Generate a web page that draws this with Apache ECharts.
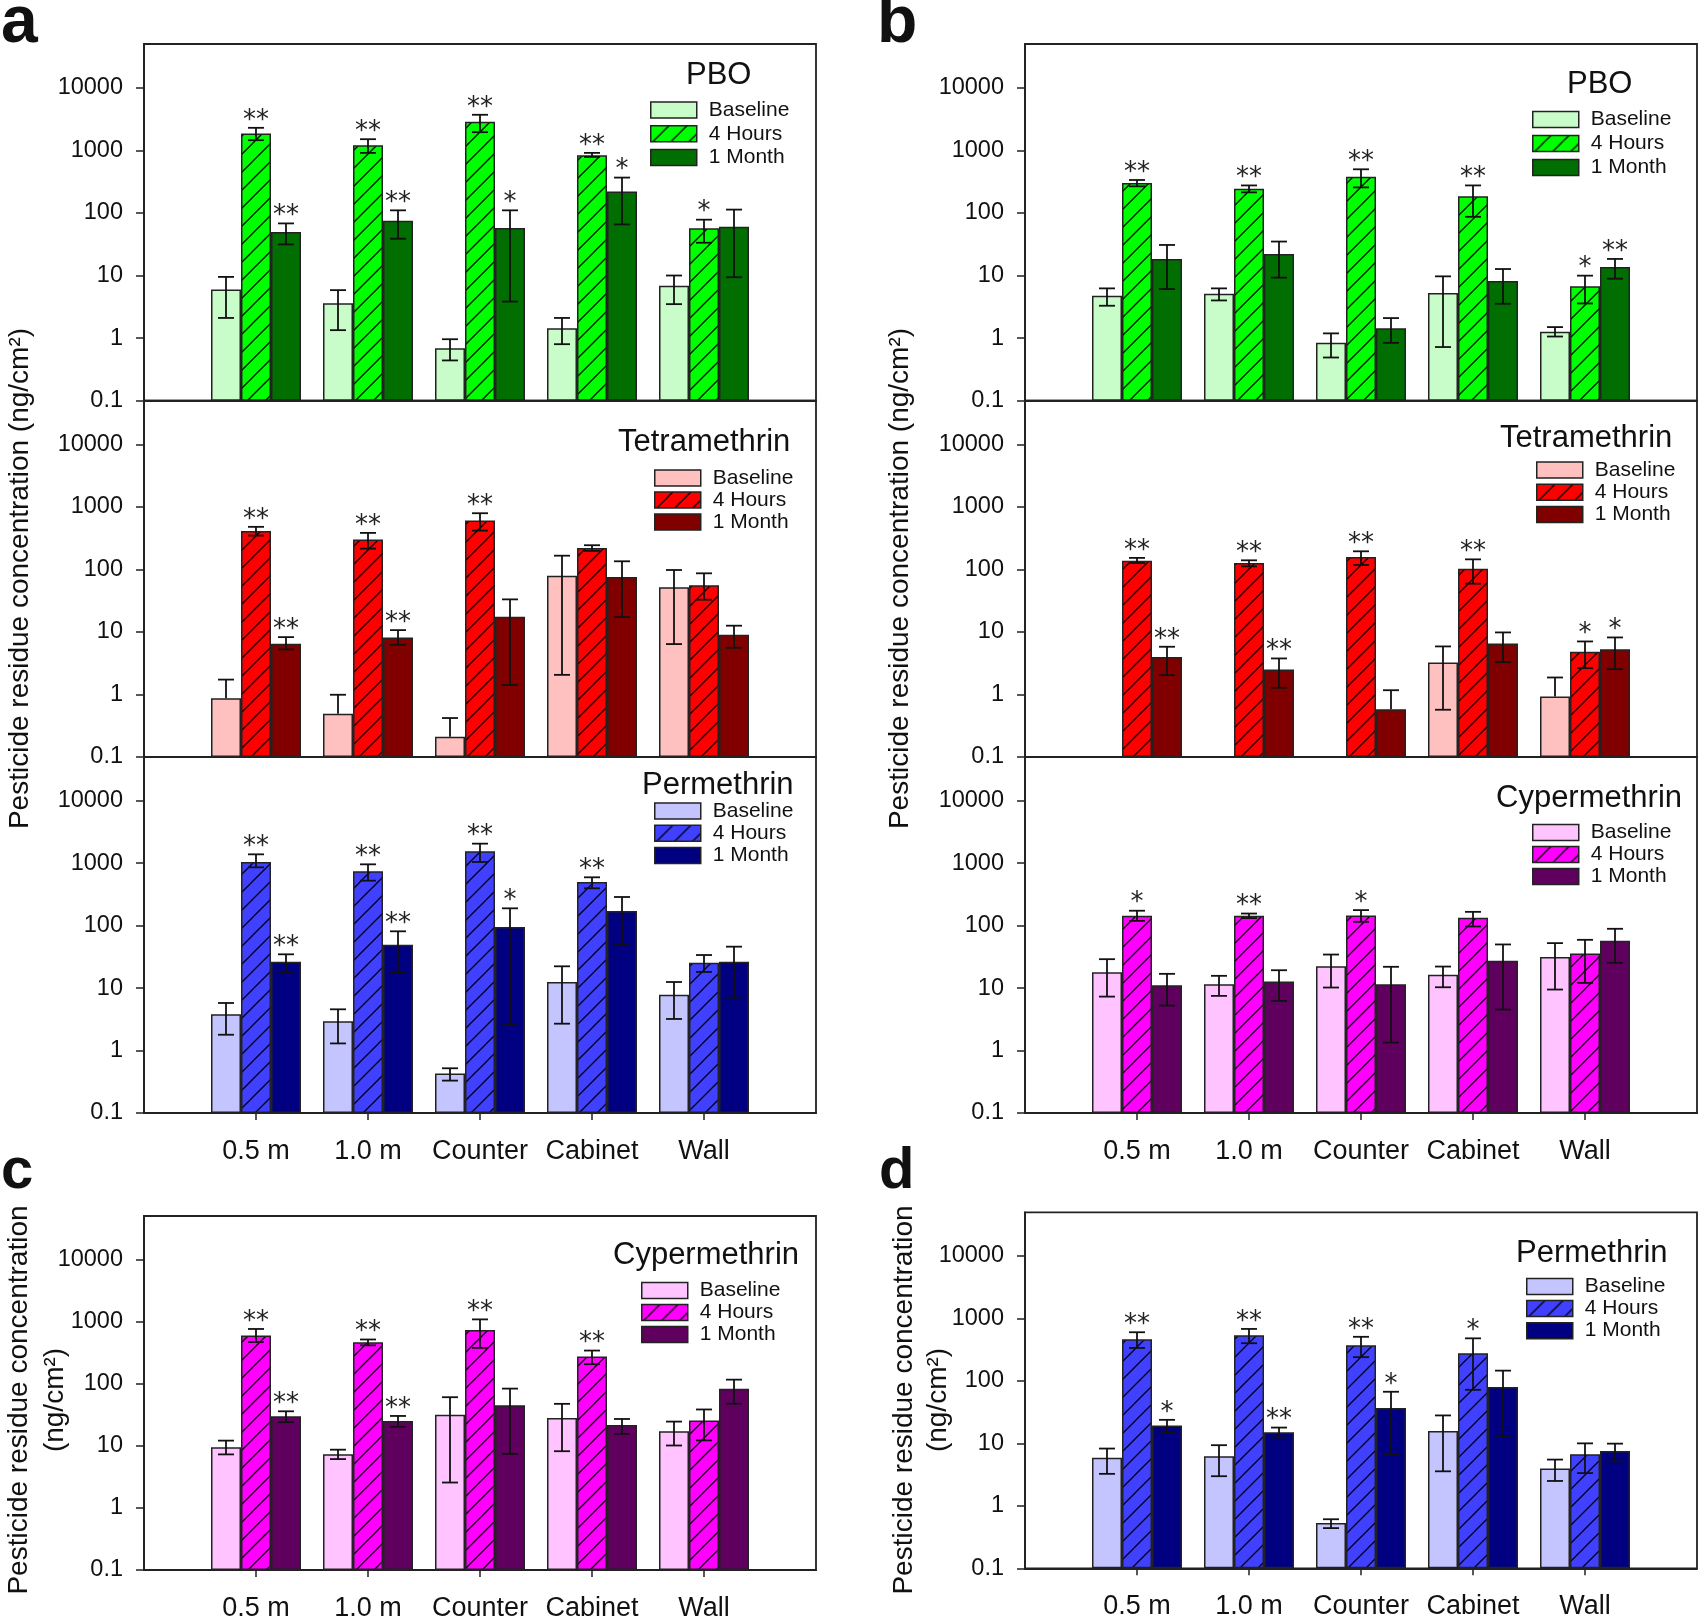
<!DOCTYPE html>
<html>
<head>
<meta charset="utf-8">
<script src="https://cdn.jsdelivr.net/npm/echarts@6/dist/echarts.min.js"></script>
<style>html,body{margin:0;padding:0;background:#fff;overflow:hidden}#c{width:1701px;height:1622px}</style>
</head>
<body>
<div id="c"></div>
<script>
// ---------------- DATA ----------------
const categories = ['0.5 m', '1.0 m', 'Counter', 'Cabinet', 'Wall'];
const groups = ['Baseline', '4 Hours', '1 Month'];
const yTicks = [0.1, 1, 10, 100, 1000, 10000];

// Panel a – PBO   (rows: Baseline, 4 Hours, 1 Month)
const aPBO_mean = [[5.98, 3.61, 0.69, 1.44, 6.85], [1858, 1208, 2855, 836, 56.7], [49.5, 75.2, 57.4, 219, 60.3]];
const aPBO_lo   = [[2.1, 1.34, 0.44, 0.8, 3.49], [1453, 911, 1950, 786, 33.4], [31.4, 38.7, 3.84, 65.6, 9.4]];
const aPBO_hi   = [[9.5, 5.84, 0.96, 2.1, 10.0], [2290, 1507, 3700, 911, 78], [68, 110, 110, 367, 113]];
const aPBO_sig  = [['', '', '', '', ''], ['**', '**', '**', '**', '*'], ['**', '**', '*', '*', '']];

// Panel a – Tetramethrin
const aTET_mean = [[0.87, 0.49, 0.21, 79.6, 51.7], [413, 300, 605, 221, 55.7], [6.47, 8.17, 17.5, 75.7, 9.0]];
const aTET_lo   = [[null, null, null, 2.06, 6.4], [348, 215, 418, 198, 32.8], [5.25, 6.23, 1.42, 17.3, 5.58]];
const aTET_hi   = [[1.73, 0.99, 0.42, 166, 98], [480, 384, 793, 244, 86.7], [8.27, 10.7, 33.2, 135, 12.6]];
const aTET_sig  = [['', '', '', '', ''], ['**', '**', '**', '', ''], ['**', '**', '', '', '']];

// Panel a – Permethrin
const aPER_mean = [[3.8, 2.93, 0.43, 12.5, 7.84], [1043, 739, 1545, 499, 25.5], [26.5, 49.5, 95, 171, 26.5]];
const aPER_lo   = [[1.79, 1.30, 0.33, 2.69, 3.2], [857, 524, 1043, 395, 18.1], [18.1, 17.9, 2.56, 50.7, 7.0]];
const aPER_hi   = [[5.77, 4.57, 0.52, 22.3, 12.5], [1383, 957, 2050, 593, 33.8], [34.7, 81, 189, 287, 46]];
const aPER_sig  = [['', '', '', '', ''], ['**', '**', '**', '**', ''], ['**', '**', '*', '', '']];

// Panel b – PBO
const bPBO_mean = [[4.76, 5.12, 0.84, 5.25, 1.26], [300, 244, 379, 184, 6.71], [18.4, 22.1, 1.44, 8.17, 13.7]];
const bPBO_lo   = [[3.29, 4.0, 0.49, 0.72, 1.06], [266, 213, 256, 86.7, 3.58], [6.08, 9.25, 0.84, 3.54, 8.9]];
const bPBO_hi   = [[6.23, 6.23, 1.19, 9.7, 1.5], [336, 275, 498, 275, 9.95], [30.8, 34.9, 2.09, 12.7, 18.4]];
const bPBO_sig  = [['', '', '', '', ''], ['**', '**', '**', '**', '*'], ['', '', '', '', '**']];

// Panel b – Tetramethrin
const bTET_mean = [[null, null, null, 3.25, 0.93], [138, 127, 158, 103, 4.82], [3.96, 2.51, 0.58, 6.55, 5.31]];
const bTET_lo   = [[null, null, null, 0.57, null], [127, 112, 118, 59.2, 2.64], [2.04, 1.28, null, 3.29, 2.54]];
const bTET_hi   = [[null, null, null, 5.87, 1.87], [153, 140, 195, 145, 7.05], [5.8, 3.77, 1.17, 9.83, 8.17]];
const bTET_sig  = [['', '', '', '', ''], ['**', '**', '**', '**', '*'], ['**', '**', '', '', '*']];

// Panel b – Cypermethrin
const bCYP_mean = [[17.9, 11.5, 22.4, 16.3, 31.3], [144, 144, 145, 133, 35.7], [11.1, 12.7, 11.5, 27.3, 57.1]];
const bCYP_lo   = [[7.3, 7.5, 10.2, 10.3, 9.47], [119, 132, 115, 96.9, 12.1], [5.25, 6.23, 1.34, 4.53, 25.3]];
const bCYP_hi   = [[29, 15.7, 34.4, 22.1, 52.4], [173, 156, 177, 166, 59.2], [16.9, 19.3, 21.9, 49.9, 88.9]];
const bCYP_sig  = [['', '', '', '', ''], ['*', '**', '*', '', ''], ['', '', '', '', '']];

// Panel c – Cypermethrin
const cCYP_mean = [[9.5, 7.3, 31.6, 27.9, 17.2], [598, 463, 731, 274, 25.6], [29.8, 25, 45, 21.5, 82.4]];
const cCYP_lo   = [[7.26, 6.1, 2.56, 8.17, 10.1], [468, 414, 377, 206, 12.2], [24, 20.2, 7.4, 15.5, 47.5]];
const cCYP_hi   = [[12.1, 8.65, 60.5, 47.3, 24.5], [759, 514, 1083, 341, 38.4], [35.9, 30.2, 83.2, 27, 116]];
const cCYP_sig  = [['', '', '', '', ''], ['**', '**', '**', '**', ''], ['**', '**', '', '', '']];

// Panel d – Permethrin
const dPER_mean = [[5.86, 6.23, 0.53, 15.8, 3.97], [464, 538, 373, 278, 6.7], [19.3, 15.1, 36.8, 80, 7.56]];
const dPER_lo   = [[3.25, 2.98, 0.44, 3.57, 2.5], [337, 401, 240, 72, 3.34], [14.7, 12.4, 6.6, 12.6, 5.14]];
const dPER_hi   = [[8.26, 9.35, 0.61, 28, 5.5], [601, 679, 508, 480, 10], [23.8, 17.9, 67, 146, 9.9]];
const dPER_sig  = [['', '', '', '', ''], ['**', '**', '**', '*', ''], ['*', '**', '*', '', '']];

// ---------------- STYLE / LAYOUT ----------------
const FONT = "'Liberation Sans', Arial, Helvetica, sans-serif";
const BAR_W = 30, CAP = 16;
const palettes = {
  PBO: ['#C8FCC8', '#00FF00', '#006E00'],
  Tetramethrin: ['#FFC0C0', '#FF0000', '#800000'],
  Permethrin: ['#C4C4FF', '#4040FF', '#000080'],
  Cypermethrin: ['#FFC4FF', '#FF00FF', '#5F005F']
};

function hatch(color) {
  const s = 18;
  const cv = document.createElement('canvas');
  cv.width = s; cv.height = s;
  const g = cv.getContext('2d');
  g.fillStyle = color; g.fillRect(0, 0, s, s);
  g.strokeStyle = '#000'; g.lineWidth = 1.3;
  g.beginPath();
  g.moveTo(-2, s + 2); g.lineTo(s + 2, -2);
  g.moveTo(-s / 2 - 2, s / 2 + 2); g.lineTo(s / 2 + 2, -s / 2 - 2);
  g.moveTo(s / 2 - 2, s * 1.5 + 2); g.lineTo(s * 1.5 + 2, s / 2 - 2);
  g.stroke();
  return cv;
}

const panels = [
  {id: 'a1', name: 'PBO', mean: aPBO_mean, lo: aPBO_lo, hi: aPBO_hi, sig: aPBO_sig, rect: [144, 44, 672, 356.7], title: [686, 60], leg: [650, 99.5, 2.8], bottom: false},
  {id: 'a2', name: 'Tetramethrin', mean: aTET_mean, lo: aTET_lo, hi: aTET_hi, sig: aTET_sig, rect: [144, 400.7, 672, 356.3], title: [618, 426.5], leg: [654, 467.5, 1], bottom: false},
  {id: 'a3', name: 'Permethrin', mean: aPER_mean, lo: aPER_lo, hi: aPER_hi, sig: aPER_sig, rect: [144, 757, 672, 356], title: [642, 770], leg: [654, 800.5, 1.2], bottom: true},
  {id: 'b1', name: 'PBO', mean: bPBO_mean, lo: bPBO_lo, hi: bPBO_hi, sig: bPBO_sig, rect: [1025, 44, 672, 356.7], title: [1567, 69], leg: [1532, 109, 3], bottom: false},
  {id: 'b2', name: 'Tetramethrin', mean: bTET_mean, lo: bTET_lo, hi: bTET_hi, sig: bTET_sig, rect: [1025, 400.7, 672, 356.3], title: [1500, 423], leg: [1536, 459.5, 1.3], bottom: false},
  {id: 'b3', name: 'Cypermethrin', mean: bCYP_mean, lo: bCYP_lo, hi: bCYP_hi, sig: bCYP_sig, rect: [1025, 757, 672, 356], title: [1496, 782.5], leg: [1532, 822, 1], bottom: true},
  {id: 'c', name: 'Cypermethrin', mean: cCYP_mean, lo: cCYP_lo, hi: cCYP_hi, sig: cCYP_sig, rect: [144, 1216, 672, 356.4], title: [613, 1240], leg: [641, 1280, 1], bottom: true},
  {id: 'd', name: 'Permethrin', mean: dPER_mean, lo: dPER_lo, hi: dPER_hi, sig: dPER_sig, rect: [1025, 1212.3, 672, 356], title: [1516, 1237.5], leg: [1526, 1276, 1.1], bottom: true}
];

function makeErr(p) {
  return function (params, api) {
    const idx = params.dataIndex;
    const s = Math.floor(idx / 5), c = idx % 5;
    const m = p.mean[s][c];
    if (m == null) return null;
    const hi = p.hi[s][c], lo = p.lo[s][c];
    const ctr = api.coord([c + 1, m]);
    const x = ctr[0] + (s - 1) * BAR_W;
    const st = {stroke: '#111', lineWidth: 1.8, fill: null};
    const children = [];
    let topY = ctr[1];
    if (hi != null) {
      const yh = api.coord([c + 1, hi])[1];
      const yl = lo != null ? api.coord([c + 1, lo])[1] : ctr[1];
      children.push({type: 'line', shape: {x1: x, y1: yh, x2: x, y2: yl}, style: st});
      children.push({type: 'line', shape: {x1: x - CAP / 2, y1: yh, x2: x + CAP / 2, y2: yh}, style: st});
      if (lo != null) children.push({type: 'line', shape: {x1: x - CAP / 2, y1: yl, x2: x + CAP / 2, y2: yl}, style: st});
      topY = Math.min(yh, ctr[1]);
    }
    const sg = p.sig[s][c];
    if (sg) {
      children.push({type: 'text', x: x, y: topY + 6, style: {text: sg, fontSize: 26, fontFamily: "'DejaVu Sans', sans-serif", fill: '#222', align: 'center', verticalAlign: 'bottom'}});
    }
    return {type: 'group', children: children};
  };
}

const option = {
  animation: false,
  backgroundColor: '#fff',
  grid: [], xAxis: [], yAxis: [], series: [], legend: [], title: [], graphic: []
};

panels.forEach(function (p, k) {
  const pal = palettes[p.name];
  option.grid.push({left: p.rect[0], top: p.rect[1], width: p.rect[2], height: p.rect[3], show: true, borderColor: '#222', borderWidth: 1.8, backgroundColor: 'transparent'});
  option.xAxis.push({
    type: 'category', gridIndex: k, data: [''].concat(categories).concat(['']), boundaryGap: false,
    axisLine: {show: true, lineStyle: {color: '#222', width: 1.8}},
    axisTick: {show: p.bottom, length: 7, interval: function (i) { return i > 0 && i < 6; }, lineStyle: {color: '#222', width: 1.5}},
    axisLabel: {show: p.bottom, interval: 0, fontSize: 27, fontFamily: FONT, color: '#111', margin: 25},
    splitLine: {show: false}
  });
  option.yAxis.push({
    type: 'log', gridIndex: k, logBase: 10, min: 0.1, max: 50000, startValue: 0.1,
    axisLine: {show: true, lineStyle: {color: '#222', width: 1.8}},
    axisTick: {show: true, length: 8, customValues: yTicks, lineStyle: {color: '#222', width: 1.5}},
    axisLabel: {customValues: yTicks, fontSize: 23.5, fontFamily: FONT, color: '#111', margin: 21,
      formatter: function (v) { return String(+(+v).toPrecision(6)); }},
    splitLine: {show: false}, minorTick: {show: false}
  });
  groups.forEach(function (g, s) {
    option.series.push({
      type: 'bar', name: g + '|' + p.id, xAxisIndex: k, yAxisIndex: k,
      data: ['-'].concat(p.mean[s].map(function (v) { return v == null ? '-' : v; })).concat(['-']),
      barWidth: BAR_W, barGap: '0%',
      itemStyle: {color: s === 1 ? {image: hatch(pal[1]), repeat: 'repeat'} : pal[s], borderColor: '#222', borderWidth: 1.5},
      emphasis: {disabled: true}, silent: true
    });
  });
  const errData = [];
  for (let s = 0; s < 3; s++) for (let c = 0; c < 5; c++) errData.push([c + 1, p.mean[s][c] == null ? '-' : p.mean[s][c]]);
  option.series.push({type: 'custom', xAxisIndex: k, yAxisIndex: k, z: 5, silent: true, clip: false,
    data: errData, encode: {x: 0, y: 1}, renderItem: makeErr(p)});
  option.legend.push({
    data: groups.map(function (g) { return g + '|' + p.id; }),
    orient: 'vertical', left: p.leg[0], top: p.leg[1], itemGap: p.leg[2], padding: 0,
    itemWidth: 46, itemHeight: 16, icon: 'rect', selectedMode: false,
    formatter: function (n) { return n.split('|')[0]; },
    itemStyle: {borderColor: '#222', borderWidth: 1.5},
    textStyle: {fontSize: 21, fontFamily: FONT, color: '#111', padding: [0, 0, 0, 7]}
  });
  option.title.push({text: p.name, left: p.title[0], top: p.title[1], padding: 0,
    textStyle: {fontSize: 31, fontWeight: 'normal', fontFamily: FONT, color: '#111'}});
});

// panel letters
[['a', 1, 47, 66], ['b', 877, 47, 66], ['c', 1, 1192.3, 58], ['d', 879, 1192.3, 58]].forEach(function (L) {
  option.graphic.push({type: 'text', x: L[1], y: L[2] - 0.8465 * L[3],
    style: {text: L[0], fontSize: L[3], fontWeight: 'bold', fontFamily: FONT, fill: '#111', align: 'left', verticalAlign: 'top'}});
});
// y-axis titles
const yTitle1 = 'Pesticide residue concentration (ng/cm\u00B2)';
const yTitle2 = 'Pesticide residue concentration\n(ng/cm\u00B2)';
[[yTitle1, 20, 578.5, 30], [yTitle1, 900, 578.5, 30], [yTitle2, 37.5, 1400, 36], [yTitle2, 921, 1400, 34]].forEach(function (T) {
  option.graphic.push({type: 'text', x: T[1], y: T[2], rotation: Math.PI / 2,
    style: {text: T[0], fontSize: 28, lineHeight: T[3], fontFamily: FONT, fill: '#111', align: 'center', verticalAlign: 'middle'}});
});

const chart = echarts.init(document.getElementById('c'), null, {renderer: 'canvas', width: 1701, height: 1622});
chart.setOption(option);
</script>
</body>
</html>
